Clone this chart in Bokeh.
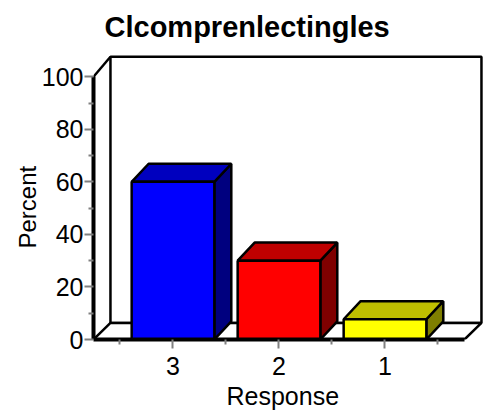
from bokeh.plotting import figure
from bokeh.models import Range1d, FixedTicker, Title
from bokeh.embed import file_html
from bokeh.resources import INLINE

title = "Clcomprenlectingles"
x_title = "Response"
y_title = "Percent"
categories = ["3", "2", "1"]
percent = [60.0, 30.0, 7.7]
bar_top_colors = ["#0000bf", "#bf0000", "#bfbf00"]
bar_side_colors = ["#00007f", "#7f0000", "#7f7f00"]
bar_front_colors = ["#0000ff", "#ff0000", "#ffff00"]
y_major = [0, 20, 40, 60, 80, 100]
y_minor = [10, 30, 50, 70, 90]
x_minor = [-0.5, 0.5, 1.5, 2.5]

FONT = "Liberation Sans"
DX, DY, DY_TOP, BAR_DY = 0.16, 6.3, 7.6, 6.9
HALF = 0.39
XL, XR, YT = -0.75, 2.75, 100

p = figure(width=490, height=413, output_backend="svg", toolbar_location=None,
           x_range=Range1d(-0.75, 2.967), y_range=Range1d(0, 110),
           min_border_left=93, min_border_right=3, min_border_top=50, min_border_bottom=74,
           title=title, background_fill_color="white", outline_line_color=None)
p.grid.visible = False
p.title.align = "left"
p.title.offset = 11
p.title.standoff = 15
p.title.text_font = FONT
p.title.text_font_size = "29px"
p.title.text_font_style = "bold"
p.title.text_color = "black"

# back wall and floor
p.patch([XL + DX, XR + DX, XR + DX, XL + DX], [DY, DY, YT + DY_TOP, YT + DY_TOP],
        fill_color="white", line_color="black", line_width=2.5)
p.patch([XL, XR, XR + DX, XL + DX], [0, 0, DY, DY],
        fill_color="white", line_color="black", line_width=2.5)
p.line([XL, XL + DX], [YT, YT + DY_TOP], line_color="black", line_width=2.5)

# bars
for i, v in enumerate(percent):
    l, r = i - HALF, i + HALF
    p.patch([r, r + DX, r + DX, r], [0, BAR_DY, v + BAR_DY, v],
            fill_color=bar_side_colors[i], line_color="black", line_width=2.5)
    p.patch([l, r, r + DX, l + DX], [v, v, v + BAR_DY, v + BAR_DY],
            fill_color=bar_top_colors[i], line_color="black", line_width=2.5)
    p.quad(left=[l], right=[r], bottom=[0], top=[v],
           fill_color=bar_front_colors[i], line_color="black", line_width=2.5)

ax = p.xaxis[0]
ax.bounds = (XL, XR)
ax.ticker = FixedTicker(ticks=[0, 1, 2], minor_ticks=x_minor)
ax.major_label_overrides = {i: c for i, c in enumerate(categories)}
ay = p.yaxis[0]
ay.bounds = (0, 100)
ay.ticker = FixedTicker(ticks=y_major, minor_ticks=y_minor)
for a in (ax, ay):
    a.axis_line_color = "black"
    a.axis_line_width = 4
    a.major_tick_line_color = "#808080"
    a.minor_tick_line_color = "#808080"
    a.major_tick_line_width = 2
    a.minor_tick_line_width = 2
    a.major_tick_in = 0
    a.minor_tick_in = 0
    a.major_tick_out = 9
    a.minor_tick_out = 5
    a.major_label_text_font = FONT
    a.major_label_text_font_size = "25px"
    a.major_label_text_color = "black"
ay.major_label_standoff = 1
ax.major_label_standoff = 8

p.add_layout(Title(text=x_title, align="left", offset=133, standoff=5, text_font=FONT,
                   text_font_size="25px", text_font_style="normal", text_color="black"), "below")
p.add_layout(Title(text=y_title, align="left", offset=91, standoff=-4, text_font=FONT,
                   text_font_size="24px", text_font_style="normal", text_color="black"), "left")

open("out.html", "w").write(file_html(p, INLINE))
